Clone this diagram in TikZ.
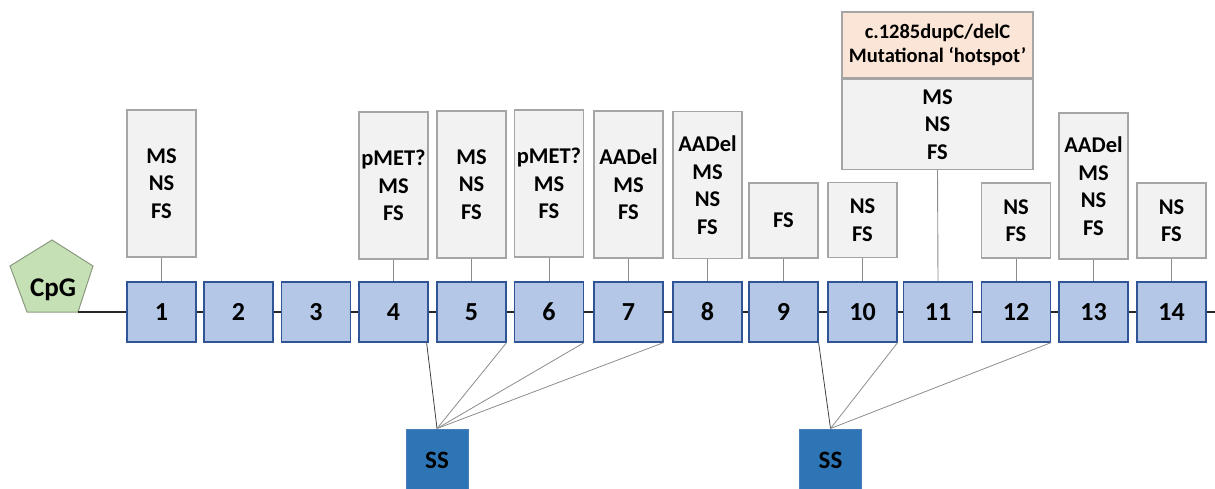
\documentclass[tikz,border=0pt]{standalone}
\usepackage{fontspec}
\setmainfont{Carlito}
\definecolor{exfill}{HTML}{B4C7E7}
\definecolor{exdraw}{HTML}{2F5597}
\definecolor{lbfill}{HTML}{F2F2F2}
\definecolor{lbdraw}{HTML}{A5A5A5}
\definecolor{hotfill}{HTML}{FBE5D6}
\definecolor{cpgfill}{HTML}{C5E0B4}
\definecolor{cpgdraw}{HTML}{8C9A80}
\definecolor{ssfill}{HTML}{2E75B6}
\definecolor{ssdraw}{HTML}{4A7EBB}
\definecolor{conn}{HTML}{8C8C8C}
\tikzset{
  exon/.style={draw=exdraw, fill=exfill, line width=1.2pt, minimum width=69pt, minimum height=60pt, inner sep=0pt, font=\fontsize{26}{30}\selectfont\bfseries},
  lbl/.style={draw=lbdraw, fill=lbfill, line width=1.4pt, minimum width=69pt, inner sep=0pt, align=center, font=\fontsize{22.5}{27.5}\selectfont\bfseries},
  ssbox/.style={draw=ssdraw, fill=ssfill, line width=1pt, minimum width=62pt, minimum height=62pt, inner sep=0pt, font=\fontsize{25}{28}\selectfont\bfseries},
  link/.style={draw=conn, line width=0.9pt},
  sslinkdark/.style={draw=black!75, line width=0.8pt},
  sslink/.style={draw=black!45, line width=0.8pt},
  cpgshape/.style={draw=cpgdraw, fill=cpgfill, line width=1pt, line join=miter}
}
\begin{document}
\begin{tikzpicture}[x=1pt, y=-1pt]
\useasboundingbox (0,0) rectangle (1215,488);
% CpG pentagon
\coordinate (cpgtop) at (52,240);
\coordinate (cpgul) at (10,266);
\coordinate (cpgbl) at (27,312);
\coordinate (cpgbr) at (78,312);
\coordinate (cpgur) at (93,266);
\draw[cpgshape] (cpgtop) -- (cpgul) -- (cpgbl) -- (cpgbr) -- (cpgur) -- cycle;
\node[font=\fontsize{27}{30}\selectfont\bfseries] (cpgt) at (53,290) {CpG};
\coordinate (lineend) at (1215,312);
\draw[line width=2pt, black!85] (cpgbr) -- (lineend);
% exons
\foreach \n/\x in {1/161.5,2/238.5,3/316,4/393.5,5/471.5,6/549,7/628.5,8/707.5,9/783.5,10/862.5,11/938,12/1016,13/1093.5,14/1171.5}{
  \node[exon] (e\n) at (\x,312) {\n};
}
% label boxes
\node[lbl, minimum height=147pt] (l1) at (161.5,183.5) {MS\\NS\\FS};
\node[lbl, minimum height=147pt] (l4) at (393.5,185.5) {pMET?\\MS\\FS};
\node[lbl, minimum height=147pt] (l5) at (471.5,184.5) {MS\\NS\\FS};
\node[lbl, minimum height=147pt] (l6) at (549,183.5) {pMET?\\MS\\FS};
\node[lbl, minimum height=147pt] (l7) at (628.5,184.5) {AADel\\MS\\FS};
\node[lbl, minimum height=147pt] (l8) at (707.5,185) {AADel\\MS\\NS\\FS};
\node[lbl, minimum height=75pt] (l9) at (783.5,220.5) {FS};
\node[lbl, minimum height=75pt] (l10) at (862.5,220) {NS\\FS};
\node[lbl, minimum height=75pt] (l12) at (1016,220.5) {NS\\FS};
\node[lbl, minimum height=146pt] (l13) at (1093.5,186) {AADel\\MS\\NS\\FS};
\node[lbl, minimum height=75pt] (l14) at (1171.5,220.5) {NS\\FS};
% hotspot box
\node[lbl, fill=hotfill, minimum width=191pt, minimum height=66pt, font=\fontsize{20.5}{24}\selectfont\bfseries] (hot) at (937.5,45) {c.1285dupC/delC\\Mutational ‘hotspot’};
\node[lbl, minimum width=191pt, minimum height=90pt, anchor=north] (l11) at (hot.south) {MS\\NS\\FS};
% connectors label -> exon
\foreach \n in {1,4,5,6,7,8,9,10,11,12,13,14}{
  \draw[link] (l\n.south) -- (e\n.north);
}
% SS boxes
\node[ssbox] (ss1) at (437,460) {SS};
\node[ssbox] (ss2) at (830.5,460) {SS};
\draw[sslinkdark] (ss1.north) -- ([xshift=-2pt]e4.south east);
\draw[sslink] (ss1.north) -- (e5.south east);
\draw[sslink] (ss1.north) -- (e6.south east);
\draw[sslink] (ss1.north) -- (e7.south east);
\draw[sslinkdark] (ss2.north) -- (e9.south east);
\draw[sslink] (ss2.north) -- (e10.south east);
\draw[sslink] (ss2.north) -- (e12.south east);
\end{tikzpicture}
\end{document}
